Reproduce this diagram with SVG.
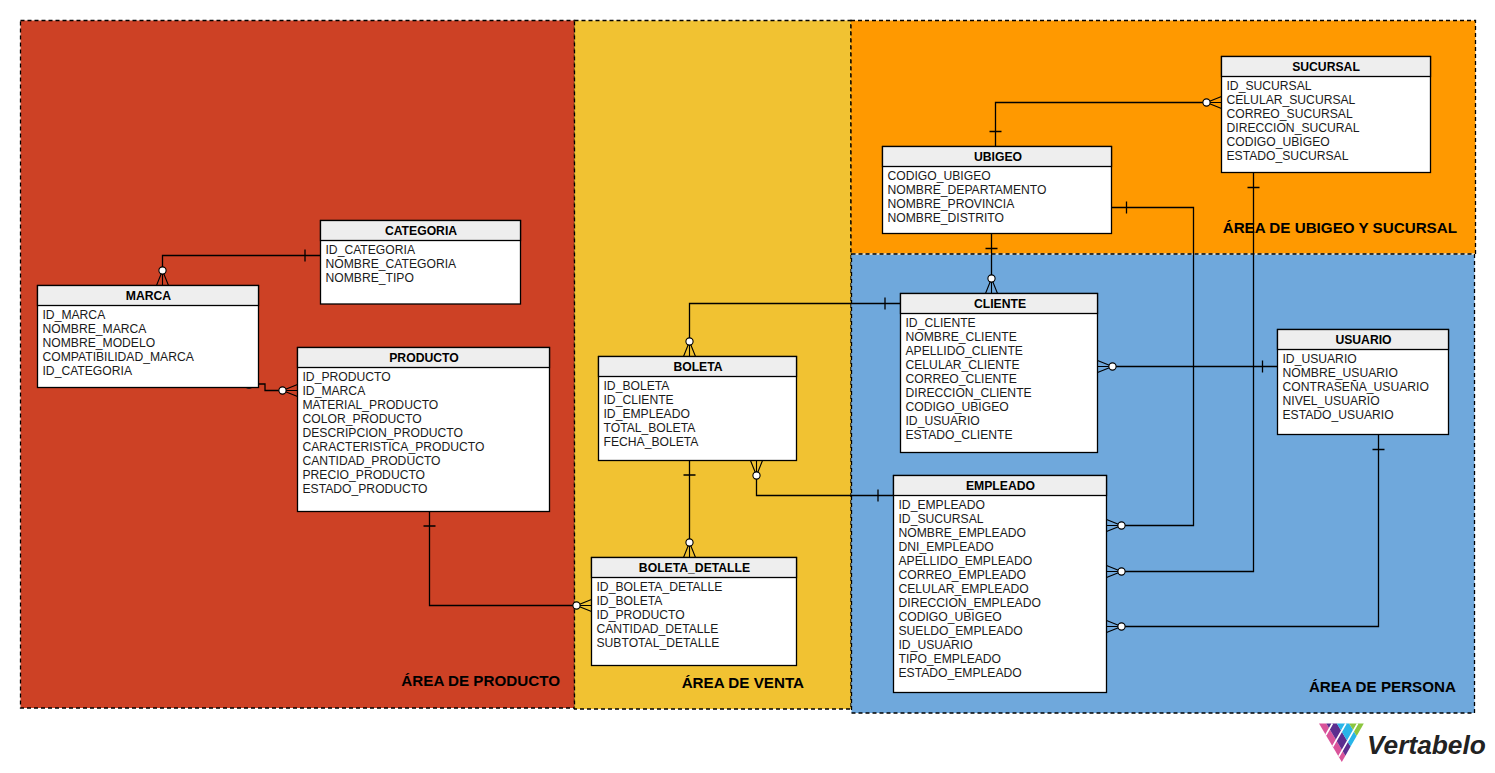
<svg xmlns="http://www.w3.org/2000/svg" width="1495" height="773" viewBox="0 0 1495 773">
<style>
text{font-family:"Liberation Sans",Arial,sans-serif}
.area{stroke:#000;stroke-width:1.3;stroke-dasharray:4 3}
.lbl{font-size:15.2px;font-weight:bold;fill:#000;text-anchor:end}
.box{fill:#fff;stroke:#000;stroke-width:1.3}
.hd{fill:#eee;stroke:#000;stroke-width:1.3}
.ttl{font-size:12.2px;font-weight:bold;fill:#000;text-anchor:middle}
.fld{font-size:12.15px;fill:#1a1a1a}
.con{fill:none;stroke:#000;stroke-width:1.3}
.cf{fill:none;stroke:#000;stroke-width:1.1}
.cc{fill:#fff;stroke:#000;stroke-width:1.1}
</style>
<defs>
<g id="crow"><path class="cf" d="M-15 0L0 -6M-15 0L0 0M-15 0L0 6"/><circle class="cc" cx="-15" cy="0" r="3.600"/></g>
</defs>
<rect width="1495" height="773" fill="#fff"/>
<g id="areas">
<rect class="area" x="20.500" y="20.500" width="554" height="687.500" fill="#cd4125"/>
<rect class="area" x="574.500" y="20.500" width="276.500" height="688.500" fill="#f1c232"/>
<rect class="area" x="851" y="20.500" width="624.500" height="233.500" fill="#ff9900"/>
<rect x="851.500" y="254" width="623" height="459" fill="#6fa8dc"/>
<path d="M851.500 254H1474.500" stroke="#f4e6c8" stroke-width="1.500"/>
<rect class="area" x="851.500" y="254" width="623" height="459" fill="none"/>
<text class="lbl" x="560" y="686">ÁREA DE PRODUCTO</text>
<text class="lbl" x="804" y="688">ÁREA DE VENTA</text>
<text class="lbl" x="1457" y="233">ÁREA DE UBIGEO Y SUCURSAL</text>
<text class="lbl" x="1456" y="692">ÁREA DE PERSONA</text>
</g>
<g id="connectors">
<path class="con" d="M320 255.500H162.500V270M305 249.500V261.500"/><use href="#crow" transform="translate(162.500,285.500) rotate(90)"/>
<circle cx="249" cy="385.500" r="3.500" fill="#222"/>
<path class="con" d="M258 384H265V390.500H282"/><use href="#crow" transform="translate(297.500,390.500)"/>
<path class="con" d="M429.500 511V605.500H576M423.500 526H435.500"/><use href="#crow" transform="translate(591.500,605.500)"/>
<path class="con" d="M689.500 460V542M683.500 475H695.500"/><use href="#crow" transform="translate(689.500,557.500) rotate(90)"/>
<path class="con" d="M756.500 475V495.500H893M878 489.500V501.500"/><use href="#crow" transform="translate(756.500,460.500) rotate(-90)"/>
<path class="con" d="M689.500 341V303.500H900M885 297.500V309.500"/><use href="#crow" transform="translate(689.500,356.500) rotate(90)"/>
<path class="con" d="M995.500 146V102.500H1206M989.500 131.500H1001.500"/><use href="#crow" transform="translate(1221.500,102.500)"/>
<path class="con" d="M991.500 233V278M985.500 248.500H997.500"/><use href="#crow" transform="translate(991.500,293.500) rotate(90)"/>
<path class="con" d="M1111 207.500H1193.500V525.500H1121M1126.500 201.500V213.500"/><use href="#crow" transform="translate(1106.500,525.500) rotate(180)"/>
<path class="con" d="M1253.500 172V571.500H1121M1247.500 187.500H1259.500"/><use href="#crow" transform="translate(1106.500,571.500) rotate(180)"/>
<path class="con" d="M1378.500 434V626.500H1121M1372.500 449.500H1384.500"/><use href="#crow" transform="translate(1106.500,626.500) rotate(180)"/>
<path class="con" d="M1112 366.500H1277M1262.500 360.500V372.500"/><use href="#crow" transform="translate(1097.500,366.500) rotate(180)"/>
</g>
<g id="categoria">
<rect class="box" x="320.500" y="220.500" width="200" height="83.500"/><rect class="hd" x="320.500" y="220.500" width="200" height="20"/>
<text class="ttl" x="421" y="234.500">CATEGORIA</text>
<text class="fld" y="254"><tspan x="325.500">ID_CATEGORIA</tspan><tspan x="325.500" dy="14">NOMBRE_CATEGORIA</tspan><tspan x="325.500" dy="14">NOMBRE_TIPO</tspan></text>
</g>
<g id="marca">
<rect class="box" x="37.500" y="285.500" width="221" height="102"/><rect class="hd" x="37.500" y="285.500" width="221" height="20"/>
<text class="ttl" x="148.500" y="299.500">MARCA</text>
<text class="fld" y="319"><tspan x="42.500">ID_MARCA</tspan><tspan x="42.500" dy="14">NOMBRE_MARCA</tspan><tspan x="42.500" dy="14">NOMBRE_MODELO</tspan><tspan x="42.500" dy="14">COMPATIBILIDAD_MARCA</tspan><tspan x="42.500" dy="14">ID_CATEGORIA</tspan></text>
</g>
<g id="producto">
<rect class="box" x="297.500" y="347.500" width="252" height="164"/><rect class="hd" x="297.500" y="347.500" width="252" height="20"/>
<text class="ttl" x="424" y="361.500">PRODUCTO</text>
<text class="fld" y="381"><tspan x="302.500">ID_PRODUCTO</tspan><tspan x="302.500" dy="14">ID_MARCA</tspan><tspan x="302.500" dy="14">MATERIAL_PRODUCTO</tspan><tspan x="302.500" dy="14">COLOR_PRODUCTO</tspan><tspan x="302.500" dy="14">DESCRIPCION_PRODUCTO</tspan><tspan x="302.500" dy="14">CARACTERISTICA_PRODUCTO</tspan><tspan x="302.500" dy="14">CANTIDAD_PRODUCTO</tspan><tspan x="302.500" dy="14">PRECIO_PRODUCTO</tspan><tspan x="302.500" dy="14">ESTADO_PRODUCTO</tspan></text>
</g>
<g id="boleta">
<rect class="box" x="598.500" y="356.500" width="198" height="104"/><rect class="hd" x="598.500" y="356.500" width="198" height="20"/>
<text class="ttl" x="698" y="370.500">BOLETA</text>
<text class="fld" y="390"><tspan x="603.500">ID_BOLETA</tspan><tspan x="603.500" dy="14">ID_CLIENTE</tspan><tspan x="603.500" dy="14">ID_EMPLEADO</tspan><tspan x="603.500" dy="14">TOTAL_BOLETA</tspan><tspan x="603.500" dy="14">FECHA_BOLETA</tspan></text>
</g>
<g id="boleta_detalle">
<rect class="box" x="591.500" y="557.500" width="205" height="108"/><rect class="hd" x="591.500" y="557.500" width="205" height="20"/>
<text class="ttl" x="694.500" y="571.500">BOLETA_DETALLE</text>
<text class="fld" y="591"><tspan x="596.500">ID_BOLETA_DETALLE</tspan><tspan x="596.500" dy="14">ID_BOLETA</tspan><tspan x="596.500" dy="14">ID_PRODUCTO</tspan><tspan x="596.500" dy="14">CANTIDAD_DETALLE</tspan><tspan x="596.500" dy="14">SUBTOTAL_DETALLE</tspan></text>
</g>
<g id="cliente">
<rect class="box" x="900.500" y="293.500" width="197" height="159"/><rect class="hd" x="900.500" y="293.500" width="197" height="20"/>
<text class="ttl" x="1000" y="307.500">CLIENTE</text>
<text class="fld" y="327"><tspan x="905.500">ID_CLIENTE</tspan><tspan x="905.500" dy="14">NOMBRE_CLIENTE</tspan><tspan x="905.500" dy="14">APELLIDO_CLIENTE</tspan><tspan x="905.500" dy="14">CELULAR_CLIENTE</tspan><tspan x="905.500" dy="14">CORREO_CLIENTE</tspan><tspan x="905.500" dy="14">DIRECCION_CLIENTE</tspan><tspan x="905.500" dy="14">CODIGO_UBIGEO</tspan><tspan x="905.500" dy="14">ID_USUARIO</tspan><tspan x="905.500" dy="14">ESTADO_CLIENTE</tspan></text>
</g>
<g id="empleado">
<rect class="box" x="893.500" y="475.500" width="213" height="217"/><rect class="hd" x="893.500" y="475.500" width="213" height="20"/>
<text class="ttl" x="1000.500" y="489.500">EMPLEADO</text>
<text class="fld" y="509"><tspan x="898.500">ID_EMPLEADO</tspan><tspan x="898.500" dy="14">ID_SUCURSAL</tspan><tspan x="898.500" dy="14">NOMBRE_EMPLEADO</tspan><tspan x="898.500" dy="14">DNI_EMPLEADO</tspan><tspan x="898.500" dy="14">APELLIDO_EMPLEADO</tspan><tspan x="898.500" dy="14">CORREO_EMPLEADO</tspan><tspan x="898.500" dy="14">CELULAR_EMPLEADO</tspan><tspan x="898.500" dy="14">DIRECCION_EMPLEADO</tspan><tspan x="898.500" dy="14">CODIGO_UBIGEO</tspan><tspan x="898.500" dy="14">SUELDO_EMPLEADO</tspan><tspan x="898.500" dy="14">ID_USUARIO</tspan><tspan x="898.500" dy="14">TIPO_EMPLEADO</tspan><tspan x="898.500" dy="14">ESTADO_EMPLEADO</tspan></text>
</g>
<g id="usuario">
<rect class="box" x="1277.500" y="329.500" width="171" height="105"/><rect class="hd" x="1277.500" y="329.500" width="171" height="20"/>
<text class="ttl" x="1363.500" y="343.500">USUARIO</text>
<text class="fld" y="363"><tspan x="1282.500">ID_USUARIO</tspan><tspan x="1282.500" dy="14">NOMBRE_USUARIO</tspan><tspan x="1282.500" dy="14">CONTRASEÑA_USUARIO</tspan><tspan x="1282.500" dy="14">NIVEL_USUARIO</tspan><tspan x="1282.500" dy="14">ESTADO_USUARIO</tspan></text>
</g>
<g id="ubigeo">
<rect class="box" x="882.500" y="146.500" width="229" height="87"/><rect class="hd" x="882.500" y="146.500" width="229" height="20"/>
<text class="ttl" x="998" y="160.500">UBIGEO</text>
<text class="fld" y="180"><tspan x="887.500">CODIGO_UBIGEO</tspan><tspan x="887.500" dy="14">NOMBRE_DEPARTAMENTO</tspan><tspan x="887.500" dy="14">NOMBRE_PROVINCIA</tspan><tspan x="887.500" dy="14">NOMBRE_DISTRITO</tspan></text>
</g>
<g id="sucursal">
<rect class="box" x="1221.500" y="56.500" width="209" height="116"/><rect class="hd" x="1221.500" y="56.500" width="209" height="20"/>
<text class="ttl" x="1326" y="70.500">SUCURSAL</text>
<text class="fld" y="90"><tspan x="1226.500">ID_SUCURSAL</tspan><tspan x="1226.500" dy="14">CELULAR_SUCURSAL</tspan><tspan x="1226.500" dy="14">CORREO_SUCURSAL</tspan><tspan x="1226.500" dy="14">DIRECCION_SUCURAL</tspan><tspan x="1226.500" dy="14">CODIGO_UBIGEO</tspan><tspan x="1226.500" dy="14">ESTADO_SUCURSAL</tspan></text>
</g>
<g id="logo">
<polygon fill="#d9539a" points="1319,723.500 1341.800,761.900 1345.400,755.700 1326.300,723.500"/>
<polygon fill="#5c2d8f" points="1326.300,723.500 1345.400,755.700 1350.600,746.500 1336.900,723.500"/>
<polygon fill="#29b5e8" points="1336.900,723.500 1350.600,746.500 1356.650,736 1349.200,723.500"/>
<polygon fill="#8cc63f" points="1349.200,723.500 1356.650,736 1363.800,723.500"/>
<path fill="none" stroke="#fff" stroke-width="1.600" d="M1325.840 735L1332.400 723.500M1332.700 746.500L1345.900 723.500M1338.700 756.600L1357.600 723.500"/>
<text x="1367" y="754" font-family="'Open Sans',sans-serif" font-size="26.300" font-weight="600" font-style="italic" fill="#222">Vertabelo</text>
</g>
</svg>
